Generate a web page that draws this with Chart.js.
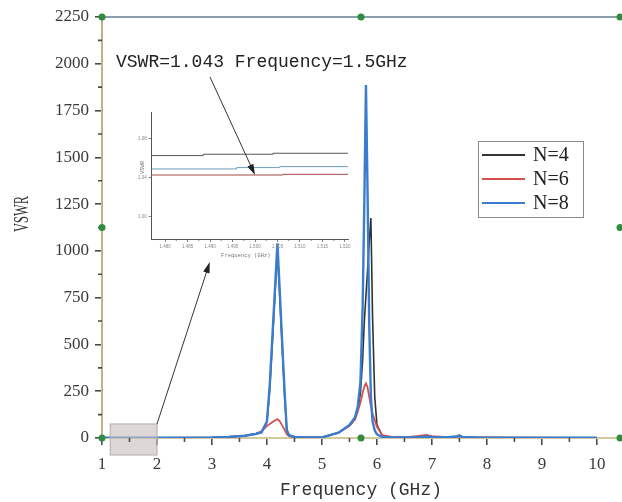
<!DOCTYPE html>
<html>
<head>
<meta charset="utf-8">
<script src="https://cdn.jsdelivr.net/npm/chart.js@4"></script>
<style>
  html, body { margin: 0; padding: 0; background: #fff; }
  #wrap { position: relative; width: 622px; height: 502px; }
  #main { position: absolute; left: 0; top: 0; }
  #zoom { position: absolute; left: 100px; top: 40px; }
</style>
</head>
<body>
<div id="wrap">
  <canvas id="main" width="622" height="502"></canvas>
  <canvas id="zoom" width="320" height="230"></canvas>
</div>
<script>
// VSWR sweep, 1-10 GHz
const freq = [1, 1.5, 2, 2.5, 3, 3.3, 3.6, 3.8, 3.9, 4.0, 4.05, 4.1, 4.15, 4.19, 4.23, 4.27, 4.32, 4.36, 4.4, 4.5,
  4.7, 5.0, 5.3, 5.5, 5.6, 5.65, 5.7, 5.74, 5.77, 5.8, 5.83, 5.86, 5.89, 5.92, 5.96, 6.0, 6.1, 6.3, 6.6, 6.8,
  6.9, 7.0, 7.3, 7.45, 7.5, 7.55, 7.8, 8.2, 9, 10];
const vswrN4 = [1, 1, 1, 1.5, 3, 6, 12, 22, 30, 85, 260, 520, 790, 1000, 770, 530, 230, 40, 15, 6,
  3, 3, 28, 65, 100, 150, 240, 420, 620, 760, 900, 1050, 1176, 650, 220, 70, 10, 3, 3, 5,
  9, 6, 4, 9, 14, 7, 3, 2, 1.5, 1.2];
const vswrN6 = [1, 1, 1, 1.5, 3, 6, 12, 24, 35, 65, 75, 85, 95, 101, 90, 70, 45, 20, 10, 5,
  3, 3, 28, 65, 100, 140, 190, 240, 275, 292, 270, 220, 170, 130, 95, 60, 15, 4, 6, 13,
  16, 10, 5, 7, 9, 5, 3, 2, 1.5, 1.2];
const vswrN8 = [1, 1, 1, 1.5, 3, 6, 12, 22, 30, 90, 280, 550, 820, 1040, 800, 550, 250, 45, 15, 6,
  3, 3, 28, 70, 110, 165, 300, 700, 1250, 1887, 1300, 600, 220, 90, 40, 20, 5, 3, 3, 5,
  8, 6, 4, 8, 13, 6, 3, 2, 1.5, 1.2];
const seriesLabels = ['N=4', 'N=6', 'N=8'];
const xTicks = [1, 2, 3, 4, 5, 6, 7, 8, 9, 10];
const yTicks = [0, 250, 500, 750, 1000, 1250, 1500, 1750, 2000, 2250];

// close-up around 1.5 GHz
const zoomFreqN4 = [1.477, 1.4885, 1.504, 1.5207];
const zoomN4 = [1.0629, 1.0643, 1.0653, 1.0653];
const zoomFreqN6 = [1.477, 1.5062, 1.5207];
const zoomN6 = [1.043, 1.0437, 1.0437];
const zoomFreqN8 = [1.477, 1.4959, 1.5055, 1.5207];
const zoomN8 = [1.0492, 1.0506, 1.0516, 1.0516];
const zoomXTicks = [1.480, 1.485, 1.490, 1.495, 1.500, 1.505, 1.510, 1.515, 1.520];
const zoomYTicks = [1.00, 1.04, 1.08];
const markFreq = 1.5;
const markVswr = 1.043;

// region that the close-up shows, in GHz / VSWR
const boxX = [1.15, 2.0];
const boxY = [-91, 75];
const boxArrowTo = [2.96, 940];

const colors = ['#333333', '#d5504c', '#3a7dd0'];

function pts(xs, ys) { return xs.map((x, i) => ({ x: x, y: ys[i] })); }

function arrow(ctx, x0, y0, x1, y1, head) {
  const a = Math.atan2(y1 - y0, x1 - x0);
  const c = Math.cos(a), s = Math.sin(a);
  ctx.beginPath();
  ctx.moveTo(x0, y0);
  ctx.lineTo(x1 - c * head * 0.8, y1 - s * head * 0.8);
  ctx.stroke();
  ctx.beginPath();
  ctx.moveTo(x1, y1);
  ctx.lineTo(x1 - head * c + head * 0.3 * s, y1 - head * s - head * 0.3 * c);
  ctx.lineTo(x1 - head * c - head * 0.3 * s, y1 - head * s + head * 0.3 * c);
  ctx.closePath();
  ctx.fill();
}

const decor = {
  id: 'decor',
  afterDatasetsDraw(chart) {
    const ctx = chart.ctx, x = chart.scales.x, y = chart.scales.y;
    ctx.save();
    // shaded zoom window
    const bx0 = x.getPixelForValue(boxX[0]), bx1 = x.getPixelForValue(boxX[1]);
    const by0 = y.getPixelForValue(boxY[1]), by1 = y.getPixelForValue(boxY[0]);
    ctx.fillStyle = 'rgba(200,188,188,0.6)';
    ctx.fillRect(bx0, by0, bx1 - bx0, by1 - by0);
    ctx.strokeStyle = '#b3a8a8';
    ctx.lineWidth = 1;
    ctx.strokeRect(bx0, by0, bx1 - bx0, by1 - by0);
    ctx.strokeStyle = '#333';
    ctx.fillStyle = '#222';
    arrow(ctx, bx1, by0, x.getPixelForValue(boxArrowTo[0]), y.getPixelForValue(boxArrowTo[1]), 11);
    ctx.restore();
  },
  afterDraw(chart) {
    const ctx = chart.ctx, a = chart.chartArea, x = chart.scales.x, y = chart.scales.y;
    ctx.save();
    // top frame
    ctx.strokeStyle = '#8d9db0';
    ctx.lineWidth = 2;
    ctx.beginPath();
    ctx.moveTo(a.left, a.top);
    ctx.lineTo(chart.width, a.top);
    ctx.stroke();

    // minor ticks
    ctx.strokeStyle = '#4a4a4a';
    ctx.lineWidth = 1.6;
    ctx.beginPath();
    for (let i = 0; i < xTicks.length - 1; i++) {
      const px = x.getPixelForValue((xTicks[i] + xTicks[i + 1]) / 2);
      ctx.moveTo(px, a.bottom);
      ctx.lineTo(px, a.bottom + 4);
    }
    for (let i = 0; i < yTicks.length - 1; i++) {
      const py = y.getPixelForValue((yTicks[i] + yTicks[i + 1]) / 2);
      ctx.moveTo(a.left, py);
      ctx.lineTo(a.left - 4, py);
    }
    ctx.stroke();

    // axis titles
    ctx.fillStyle = '#333';
    ctx.font = '18px "Liberation Mono"';
    ctx.textAlign = 'center';
    ctx.textBaseline = 'middle';
    ctx.fillText('Frequency (GHz)', (a.left + a.right) / 2, 490);
    ctx.save();
    ctx.translate(23, 214);
    ctx.rotate(-Math.PI / 2);
    ctx.scale(0.62, 1);
    ctx.font = '20px "Liberation Serif"';
    ctx.fillText('VSWR', 0, 0);
    ctx.restore();

    // legend
    const lx = 478, ly = 141, lw = 105, lh = 76;
    ctx.fillStyle = '#fff';
    ctx.fillRect(lx, ly, lw, lh);
    ctx.strokeStyle = '#8a8a8a';
    ctx.lineWidth = 1;
    ctx.strokeRect(lx + 0.5, ly + 0.5, lw, lh);
    ctx.font = '20px "Liberation Serif"';
    ctx.textAlign = 'left';
    chart.data.datasets.forEach((ds, i) => {
      const ry = ly + 14 + i * 24;
      ctx.strokeStyle = ds.borderColor;
      ctx.lineWidth = 2;
      ctx.beginPath();
      ctx.moveTo(lx + 4, ry);
      ctx.lineTo(lx + 47, ry);
      ctx.stroke();
      ctx.fillStyle = '#222';
      ctx.fillText(ds.label, lx + 55, ry + 1);
    });

    // selection handles
    ctx.fillStyle = '#2f8c3c';
    const hx = [a.left, (a.left + a.right) / 2, a.right];
    const hy = [a.top, (a.top + a.bottom) / 2, a.bottom];
    hy.forEach((py, j) => hx.forEach((px, i) => {
      if (i === 1 && j === 1) return;
      ctx.beginPath();
      ctx.arc(px, py, 3.5, 0, Math.PI * 2);
      ctx.fill();
    }));
    ctx.restore();
  }
};

const tickFont = { family: 'Liberation Serif', size: 17 };

new Chart(document.getElementById('main'), {
  type: 'line',
  data: {
    datasets: [
      { label: seriesLabels[0], data: pts(freq, vswrN4), borderColor: colors[0], borderWidth: 1.6, order: 2 },
      { label: seriesLabels[1], data: pts(freq, vswrN6), borderColor: colors[1], borderWidth: 1.8, order: 1 },
      { label: seriesLabels[2], data: pts(freq, vswrN8), borderColor: colors[2], borderWidth: 2.4, order: 0 }
    ]
  },
  options: {
    responsive: false,
    animation: false,
    elements: { point: { radius: 0 }, line: { tension: 0 } },
    layout: { padding: { top: 17, right: 2, left: 0, bottom: 0 } },
    plugins: { legend: { display: false }, tooltip: { enabled: false } },
    scales: {
      x: {
        type: 'linear', min: 1, max: 10.42,
        afterBuildTicks: s => { s.ticks = xTicks.map(v => ({ value: v })); },
        afterFit: s => { s.height = 64; },
        grid: { drawOnChartArea: false, tickLength: 7, color: '#4a4a4a', lineWidth: 1.6 },
        border: { color: '#d3c89d', width: 2 },
        ticks: { font: tickFont, color: '#3a3a3a', padding: 9, maxRotation: 0, autoSkip: false,
                 callback: v => String(v) }
      },
      y: {
        min: 0, max: 2250,
        afterBuildTicks: s => { s.ticks = yTicks.map(v => ({ value: v })); },
        afterFit: s => { s.width = 102; },
        grid: { drawOnChartArea: false, tickLength: 7, color: '#4a4a4a', lineWidth: 1.6 },
        border: { color: '#c2b08c', width: 2 },
        ticks: { font: tickFont, color: '#3a3a3a', padding: 6, autoSkip: false,
                 callback: v => String(v) }
      }
    }
  },
  plugins: [decor]
});

// close-up panel with its callout
const zoomDecor = {
  id: 'zoomDecor',
  afterDraw(chart) {
    const ctx = chart.ctx, a = chart.chartArea, x = chart.scales.x, y = chart.scales.y;
    ctx.save();
    ctx.strokeStyle = '#666';
    ctx.lineWidth = 0.8;
    ctx.beginPath();
    for (let i = 0; i < zoomXTicks.length - 1; i++) {
      const px = x.getPixelForValue((zoomXTicks[i] + zoomXTicks[i + 1]) / 2);
      ctx.moveTo(px, a.bottom);
      ctx.lineTo(px, a.bottom + 2);
    }
    ctx.stroke();

    ctx.fillStyle = '#777';
    ctx.font = '5.5px "Liberation Mono"';
    ctx.textAlign = 'center';
    ctx.textBaseline = 'middle';
    ctx.fillText('Frequency (GHz)', (a.left + a.right) / 2 - 4, a.bottom + 17);
    ctx.save();
    ctx.translate(a.left - 9, (a.top + a.bottom) / 2 - 8);
    ctx.rotate(-Math.PI / 2);
    ctx.fillText('VSWR', 0, 0);
    ctx.restore();

    ctx.fillStyle = '#222';
    ctx.font = '18px "Liberation Mono"';
    ctx.textAlign = 'left';
    ctx.fillText('VSWR=1.043 Frequency=1.5GHz', 16, 22);

    ctx.strokeStyle = '#333';
    ctx.lineWidth = 1;
    arrow(ctx, 110, 37, x.getPixelForValue(markFreq), y.getPixelForValue(markVswr), 11);
    ctx.restore();
  }
};

const zoomFont = { family: 'Liberation Sans', size: 4.5 };

new Chart(document.getElementById('zoom'), {
  type: 'line',
  data: {
    datasets: [
      { label: seriesLabels[0], data: pts(zoomFreqN4, zoomN4), borderColor: '#555555' },
      { label: seriesLabels[1], data: pts(zoomFreqN6, zoomN6), borderColor: '#a04a48' },
      { label: seriesLabels[2], data: pts(zoomFreqN8, zoomN8), borderColor: '#6a9cbc' }
    ]
  },
  options: {
    responsive: false,
    animation: false,
    elements: { point: { radius: 0 }, line: { tension: 0, borderWidth: 1, stepped: true } },
    layout: { padding: { top: 72, right: 72, left: 0, bottom: 0 } },
    plugins: { legend: { display: false }, tooltip: { enabled: false } },
    scales: {
      x: {
        type: 'linear', min: 1.47704, max: 1.52067,
        afterBuildTicks: s => { s.ticks = zoomXTicks.map(v => ({ value: v })); },
        afterFit: s => { s.height = 31; },
        grid: { drawOnChartArea: false, tickLength: 3, color: '#666', lineWidth: 0.8 },
        border: { color: '#555', width: 1 },
        ticks: { font: zoomFont, color: '#888', padding: 2, maxRotation: 0, autoSkip: false,
                 callback: v => v.toFixed(3) }
      },
      y: {
        min: 0.9774, max: 1.1076,
        afterBuildTicks: s => { s.ticks = zoomYTicks.map(v => ({ value: v })); },
        afterFit: s => { s.width = 51.7; },
        grid: { drawOnChartArea: false, tickLength: 3, color: '#666', lineWidth: 0.8 },
        border: { color: '#555', width: 1 },
        ticks: { font: zoomFont, color: '#888', padding: 2, autoSkip: false,
                 callback: v => v.toFixed(2) }
      }
    }
  },
  plugins: [zoomDecor]
});
</script>
</body>
</html>
